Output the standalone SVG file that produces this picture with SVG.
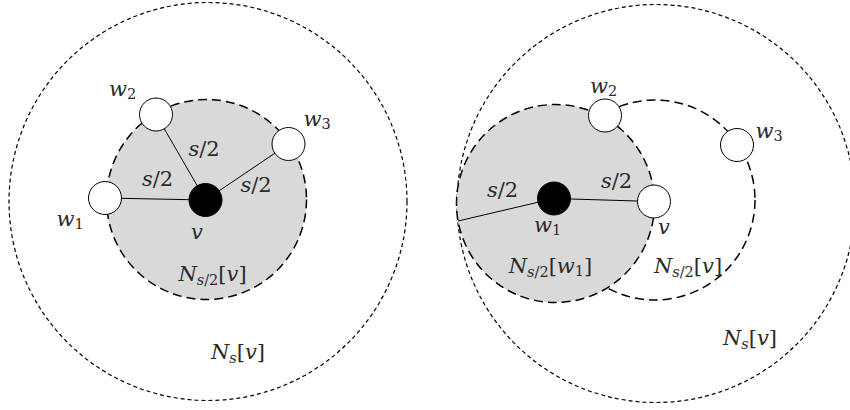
<svg xmlns="http://www.w3.org/2000/svg" width="850" height="410" viewBox="0 0 850 410">
<style>
.outer{fill:none;stroke:#000;stroke-width:1.2;stroke-dasharray:4 3}
.hood{fill:none;stroke:#000;stroke-width:1.5;stroke-dasharray:9 5}
.gray{fill:#d9d9d9;stroke:#000;stroke-width:1.5;stroke-dasharray:9 5}
.edge{stroke:#000;stroke-width:1;fill:none}
.wnode{fill:#fff;stroke:#000;stroke-width:1}
.bnode{fill:#000;stroke:#000;stroke-width:1}
.lbl text{font-family:'DejaVu Serif','Liberation Serif',serif;font-size:21px;fill:#2a2a2a;text-anchor:middle}
.i{font-style:italic}
.sub{font-size:14.5px}
</style>
<rect width="850" height="410" fill="#fff"/>

<!-- Left picture -->
<g id="left-regions">
<circle class="outer" cx="208" cy="201.5" r="199"/>
<circle class="gray" cx="206.5" cy="199.5" r="100"/>
</g>
<g id="left-edges">
<line class="edge" x1="205.5" y1="200" x2="105" y2="198"/>
<line class="edge" x1="205.5" y1="200" x2="156" y2="114.5"/>
<line class="edge" x1="205.5" y1="200" x2="288.5" y2="144"/>
</g>
<g id="left-v"><circle class="bnode" cx="205.5" cy="200" r="16.5"/></g>
<g id="left-w1"><circle class="wnode" cx="105" cy="198" r="16.5"/></g>
<g id="left-w2"><circle class="wnode" cx="156" cy="114.5" r="16.5"/></g>
<g id="left-w3"><circle class="wnode" cx="288.5" cy="144" r="16.5"/></g>
<g id="left-labels" class="lbl">
<text x="122.5" y="96"><tspan class="i">w</tspan><tspan class="sub" dy="3">2</tspan></text>
<text x="317" y="126"><tspan class="i">w</tspan><tspan class="sub" dy="3">3</tspan></text>
<text x="70" y="226"><tspan class="i">w</tspan><tspan class="sub" dy="3">1</tspan></text>
<text x="197" y="239" class="i">v</text>
<text x="157.5" y="186"><tspan class="i">s</tspan>/2</text>
<text x="204" y="156"><tspan class="i">s</tspan>/2</text>
<text x="256" y="192"><tspan class="i">s</tspan>/2</text>
<text x="212.5" y="281"><tspan class="i">N</tspan><tspan class="sub i" dy="4">s</tspan><tspan class="sub">/2</tspan><tspan dy="-4">[</tspan><tspan class="i">v</tspan>]</text>
<text x="238" y="359"><tspan class="i">N</tspan><tspan class="sub i" dy="4">s</tspan><tspan dy="-4">[</tspan><tspan class="i">v</tspan>]</text>
</g>

<!-- Right picture -->
<g id="right-regions">
<circle class="outer" cx="656" cy="203.5" r="199"/>
<circle class="hood" cx="655" cy="200" r="100"/>
<circle class="gray" cx="555.5" cy="203.5" r="99"/>
</g>
<g id="right-edges">
<line class="edge" x1="554" y1="198.5" x2="458" y2="221"/>
<line class="edge" x1="554" y1="198.5" x2="654" y2="201.5"/>
</g>
<g id="right-w1"><circle class="bnode" cx="554" cy="198.5" r="16.5"/></g>
<g id="right-v"><circle class="wnode" cx="654" cy="201.5" r="16.5"/></g>
<g id="right-w2"><circle class="wnode" cx="605" cy="115.5" r="16.5"/></g>
<g id="right-w3"><circle class="wnode" cx="737" cy="145" r="16.5"/></g>
<g id="right-labels" class="lbl">
<text x="603.5" y="93"><tspan class="i">w</tspan><tspan class="sub" dy="3">2</tspan></text>
<text x="769" y="138"><tspan class="i">w</tspan><tspan class="sub" dy="3">3</tspan></text>
<text x="502.5" y="197"><tspan class="i">s</tspan>/2</text>
<text x="616.5" y="188"><tspan class="i">s</tspan>/2</text>
<text x="547.5" y="232"><tspan class="i">w</tspan><tspan class="sub" dy="3">1</tspan></text>
<text x="664" y="234" class="i">v</text>
<text x="550.5" y="273"><tspan class="i">N</tspan><tspan class="sub i" dy="4">s</tspan><tspan class="sub">/2</tspan><tspan dy="-4">[</tspan><tspan class="i">w</tspan><tspan class="sub" dy="3">1</tspan><tspan dy="-3">]</tspan></text>
<text x="688" y="273"><tspan class="i">N</tspan><tspan class="sub i" dy="4">s</tspan><tspan class="sub">/2</tspan><tspan dy="-4">[</tspan><tspan class="i">v</tspan>]</text>
<text x="750" y="345"><tspan class="i">N</tspan><tspan class="sub i" dy="4">s</tspan><tspan dy="-4">[</tspan><tspan class="i">v</tspan>]</text>
</g>
</svg>
